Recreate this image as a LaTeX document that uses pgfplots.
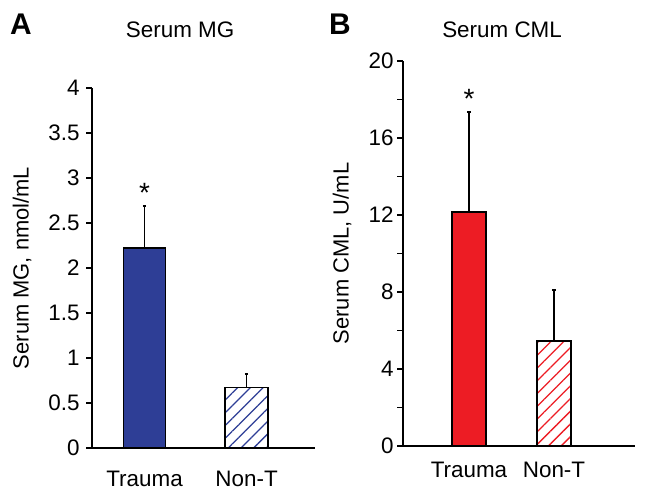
\documentclass[border=0pt]{standalone}
\usepackage{fontspec}
\setmainfont{Liberation Sans}
\usepackage{pgfplots}
\pgfplotsset{compat=1.18}
\usetikzlibrary{patterns.meta}
\definecolor{mgblue}{RGB}{46,62,150}
\definecolor{cmlred}{RGB}{237,28,36}
\begin{document}
\begin{tikzpicture}[x=1bp,y=1bp]
\useasboundingbox (0,0) rectangle (645,498);
\pgfplotsset{
  every axis/.append style={
    scale only axis,
    axis lines*=left,
    axis line style={line width=1.5bp,-},
    font=\fontsize{22.5}{26}\selectfont,
    /pgf/number format/assume math mode=true,
    /pgf/number format/fixed,
    tick align=outside,
    major tick length=6bp, minor tick length=6bp,
    every tick/.style={black, line width=1.2bp},
    xtick={1,2}, xticklabels={Trauma,Non-T},
    x tick style={draw=none},
    ymin=0, clip=false,
    title style={anchor=center},
    ylabel style={font=\fontsize{22}{26}\selectfont},
  },
  mybar/.style={ybar, bar shift=0pt, draw=black, line width=1.5bp,
    error bars/y dir=plus, error bars/y explicit,
    error bars/error bar style={line width=1.5bp, black, solid},
    error bars/error mark options={rotate=90, mark size=1.8bp, line width=1.5bp, black}},
}
\node[font=\bfseries\fontsize{30}{34}\selectfont] at (21,474) {A};
\node[font=\bfseries\fontsize{30}{34}\selectfont] at (340,474) {B};
% Panel A
\begin{axis}[anchor=south west, at={(92bp,50bp)}, width=223bp, height=360bp,
  xmin=0.485, xmax=2.67, ymax=4, ytick distance=0.5,
  xticklabel style={yshift=-14bp},
  yticklabel style={xshift=-3bp},
  title={Serum MG}, title style={at={(axis description cs:0.395,1)}, yshift=52bp},
  ylabel={Serum MG, nmol/mL},
  ylabel style={at={(axis description cs:-0.314,0.5)}, anchor=center}]
\addplot[mybar, bar width=0.41, fill=mgblue] coordinates {(1,2.22) +- (0,0.47)};
\addplot[mybar, bar width=0.42, fill=white, postaction={pattern={Lines[angle=45,distance=9bp,line width=1.3bp]}, pattern color=mgblue}] coordinates {(2,0.67) +- (0,0.15)};
\node[anchor=south, inner sep=0pt, yshift=3bp, font=\fontsize{28}{30}\selectfont] at (axis cs:1,2.69) {*};
\end{axis}
% Panel B
\begin{axis}[anchor=south west, at={(403bp,52bp)}, width=232bp, height=385bp,
  xmin=0.224, xmax=2.953, ymax=20, ytick={0,4,...,20}, minor ytick={2,6,...,18},
  xticklabel style={yshift=-7bp},
  title={Serum CML}, title style={at={(axis description cs:0.427,1)}, yshift=25bp},
  ylabel={Serum CML, U/mL},
  ylabel style={at={(axis description cs:-0.263,0.5)}, anchor=center}]
\addplot[mybar, bar width=0.4, fill=cmlred] coordinates {(1,12.16) +- (0,5.19)};
\addplot[mybar, bar width=0.4, fill=white, postaction={pattern={Lines[angle=45,distance=9bp,line width=1.3bp]}, pattern color=cmlred}] coordinates {(2,5.45) +- (0,2.65)};
\node[anchor=south, inner sep=0pt, yshift=3bp, font=\fontsize{28}{30}\selectfont] at (axis cs:1,17.35) {*};
\end{axis}
\end{tikzpicture}
\end{document}
